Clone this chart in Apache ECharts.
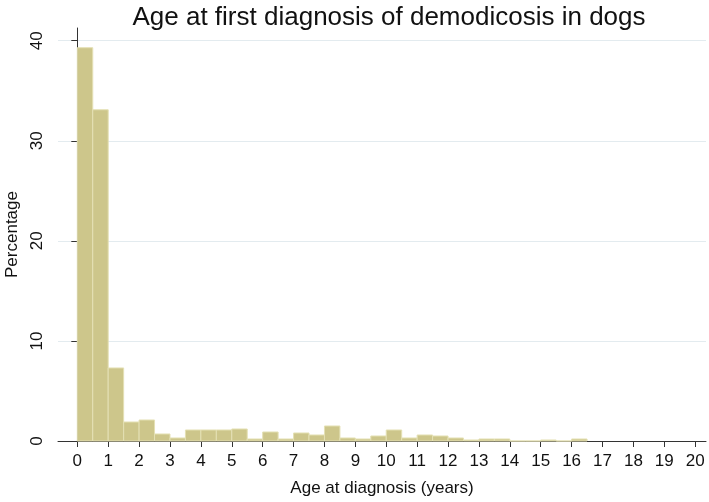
<!DOCTYPE html>
<html>
<head>
<meta charset="utf-8">
<script src="https://cdn.jsdelivr.net/npm/echarts@6/dist/echarts.min.js"></script>
<style>html,body{margin:0;padding:0;background:#fff}#c{width:709px;height:502px}</style>
</head>
<body>
<div id="c"></div>
<script>
// Histogram bins: start age (years), bin width 0.5
const binStarts = [0,0.5,1,1.5,2,2.5,3,3.5,4,4.5,5,5.5,6,6.5,7,7.5,8,8.5,9,9.5,10,10.5,11,11.5,12,12.5,13,13.5,14,14.5,15,15.5,16];
const percentages = [39.3,33.1,7.3,1.9,2.1,0.7,0.3,1.1,1.1,1.1,1.2,0.2,0.9,0.2,0.8,0.6,1.5,0.3,0.2,0.5,1.1,0.3,0.6,0.5,0.3,0.1,0.2,0.2,0,0,0.1,0,0.2];
const binWidth = 0.5;
const xTicks = [0,1,2,3,4,5,6,7,8,9,10,11,12,13,14,15,16,17,18,19,20];
const yTicks = [0,10,20,30,40];
const titleText = 'Age at first diagnosis of demodicosis in dogs';
const xTitle = 'Age at diagnosis (years)';
const yTitle = 'Percentage';

const data = binStarts.map((s, i) => [s, s + binWidth, percentages[i]]);
const font = 'Liberation Sans, Arial, sans-serif';

const chart = echarts.init(document.getElementById('c'), null, {renderer: 'canvas'});
chart.setOption({
  animation: false,
  backgroundColor: '#fff',
  title: {
    text: titleText, left: 384, top: 0, textAlign: 'center',
    textStyle: {fontFamily: font, fontWeight: 'normal', fontSize: 26, color: '#111'}
  },
  grid: {left: 58, right: 3, top: 28, bottom: 61, containLabel: false, outerBoundsMode: 'none'},
  xAxis: {
    type: 'value', min: -0.625, max: 20.35,
    name: xTitle, nameLocation: 'middle', nameGap: 39,
    nameTextStyle: {fontFamily: font, fontSize: 17, color: '#111'},
    axisLine: {show: true, onZero: false, lineStyle: {color: '#333', width: 1}},
    axisTick: {show: true, length: 6, customValues: xTicks, lineStyle: {color: '#333'}},
    axisLabel: {customValues: xTicks, fontFamily: font, fontSize: 17, color: '#111', margin: 12},
    splitLine: {show: false}
  },
  yAxis: {
    type: 'value', min: 0, max: 41.27,
    name: yTitle, nameLocation: 'middle', nameGap: 37, nameRotate: 90,
    nameTextStyle: {fontFamily: font, fontSize: 17, color: '#111'},
    axisLine: {show: true, lineStyle: {color: '#333', width: 1}},
    axisTick: {show: true, length: 6, customValues: yTicks, lineStyle: {color: '#333'}},
    axisLabel: {customValues: yTicks, rotate: 90, fontFamily: font, fontSize: 17, color: '#111', margin: 12},
    splitLine: {show: true, customValues: yTicks, lineStyle: {color: '#e3ebef', width: 1}}
  },
  series: [{
    type: 'custom',
    data: data,
    encode: {x: [0, 1], y: 2},
    renderItem: function (params, api) {
      const p0 = api.coord([api.value(0), 0]);
      const p1 = api.coord([api.value(1), api.value(2)]);
      return {
        type: 'rect',
        shape: {x: p0[0], y: p1[1], width: p1[0] - p0[0], height: p0[1] - p1[1]},
        style: {fill: '#cdc68b', stroke: '#e4e0b4', lineWidth: 1}
      };
    }
  }]
});
</script>
</body>
</html>
